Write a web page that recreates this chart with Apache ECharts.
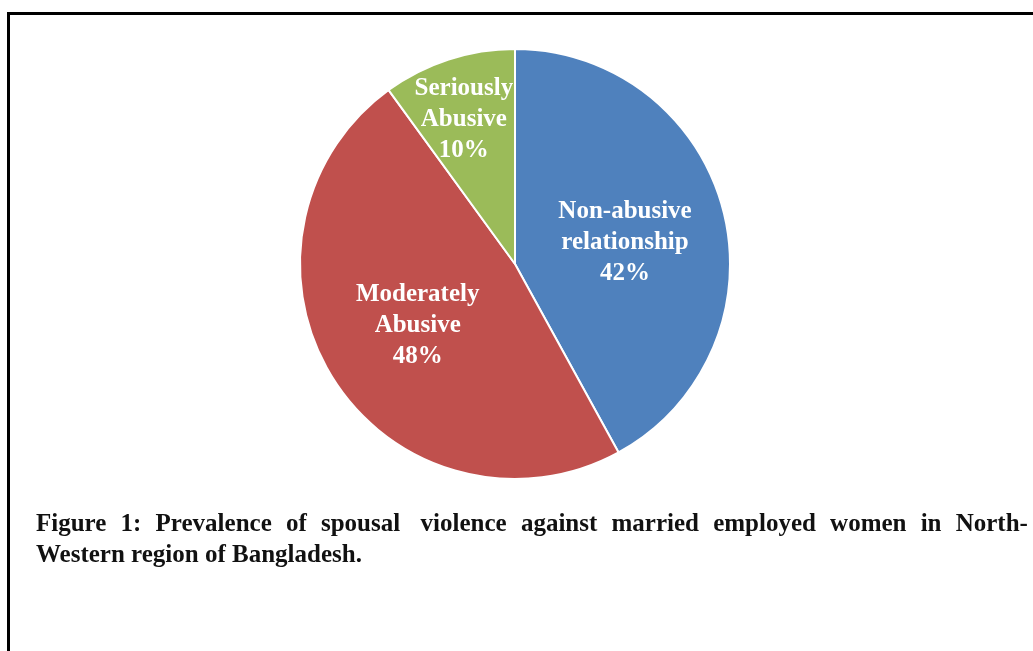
<!DOCTYPE html>
<html>
<head>
<meta charset="utf-8">
<script src="https://cdn.jsdelivr.net/npm/echarts@6/dist/echarts.min.js"></script>
<style>
  html, body { margin: 0; padding: 0; background: #fff; overflow: hidden; }
  #box {
    position: absolute; left: 7px; top: 12px; width: 1100px; height: 700px;
    border: 3px solid #000; box-sizing: border-box;
  }
  #main { position: absolute; left: 0; top: 0; width: 1033px; height: 651px; }
  .cap {
    position: absolute; left: 36px; width: 992px;
    font-family: "Liberation Serif", "Times New Roman", serif;
    font-weight: bold; font-size: 25px; line-height: 31px; color: #111;
    white-space: nowrap;
  }
  #cap1 { top: 507px; display: flex; justify-content: space-between; }
  #cap2 { top: 538px; }
</style>
</head>
<body>
<div id="box"></div>
<div id="main"></div>
<div class="cap" id="cap1"><span>Figure</span><span>1:</span><span>Prevalence</span><span>of</span><span>spousal&nbsp;</span><span>violence</span><span>against</span><span>married</span><span>employed</span><span>women</span><span>in</span><span>North-</span></div>
<div class="cap" id="cap2">Western region of Bangladesh.</div>
<script>
// categories and shares (%)
var leibie = ['Non-abusive\nrelationship', 'Moderately\nAbusive', 'Seriously\nAbusive']
var zhi = [42, 48, 10]
var yanse = ['#4F81BD', '#C0504D', '#9BBB59']

var shuju = []
for (var i = 0; i < leibie.length; i++) {
  shuju.push({ name: leibie[i], value: zhi[i], itemStyle: { color: yanse[i] } })
}

var myChart = echarts.init(document.getElementById('main'))
var option = {
  animation: false,
  series: [
    {
      type: 'pie',
      center: [515, 264],
      radius: 215,
      startAngle: 90,
      clockwise: true,
      data: shuju,
      itemStyle: { borderColor: '#fff', borderWidth: 2 },
      label: {
        show: true,
        position: 'inside',
        formatter: '{b}\n{c}%',
        color: '#fff',
        fontFamily: 'Liberation Serif',
        fontWeight: 'bold',
        fontSize: 25,
        lineHeight: 31,
        align: 'center'
      },
      labelLine: { show: false },
      labelLayout: function (p) {
        if (p.dataIndex == 2) return { dx: -17, dy: -39 }
        if (p.dataIndex == 1) return { dx: -4, dy: 2 }
        return { dx: 3, dy: 6 }
      }
    }
  ]
}
myChart.setOption(option)
</script>
</body>
</html>
